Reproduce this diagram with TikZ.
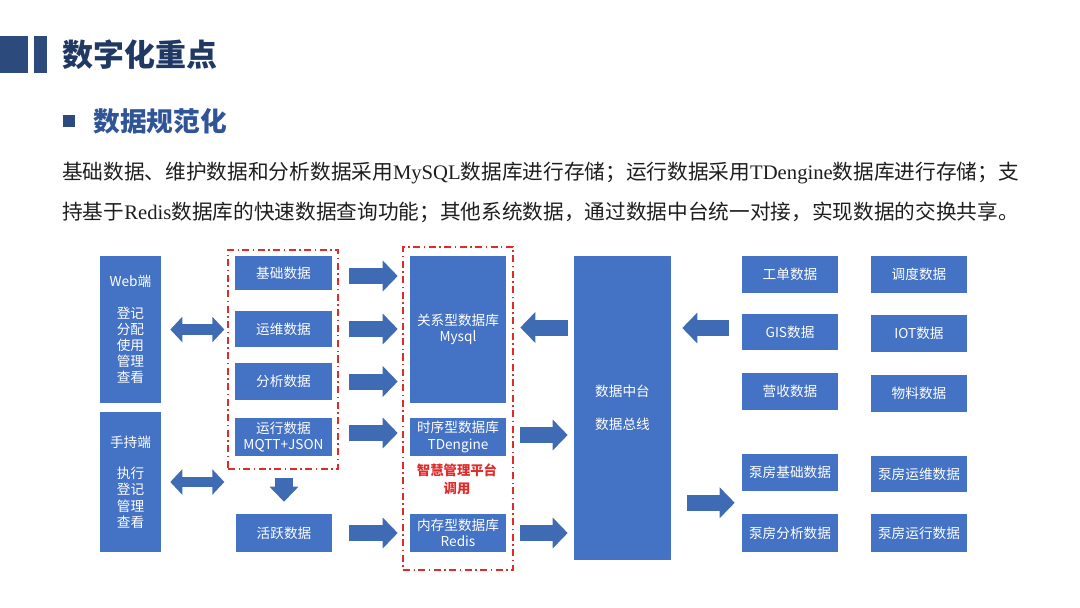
\documentclass[tikz,border=0pt]{standalone}
\usepackage{fontspec}
\setmainfont{Noto Sans CJK SC}
\newfontfamily\latinserif{Liberation Serif}
\usetikzlibrary{arrows.meta, positioning, calc}
\definecolor{boxBlue}{HTML}{4472C4}
\definecolor{arrBlue}{HTML}{3F6BB5}
\definecolor{titleNavy}{HTML}{1F3864}
\definecolor{barNavy}{HTML}{2C4A7C}
\definecolor{subBlue}{HTML}{2F5597}
\definecolor{dashRed}{HTML}{E02B2B}
\definecolor{bodyText}{HTML}{1E1E1E}
\tikzset{
  box/.style={rectangle, fill=boxBlue, text=white, align=center,
              font=\fontsize{9.7}{11.5}\selectfont, inner sep=1pt,
              minimum width=2.4cm},
  grp/.style={rectangle, draw=dashRed, line width=0.9pt,
              dash pattern=on 5pt off 2.5pt on 1pt off 2.5pt},
  arrowB/.style={-{Triangle[length=0.375cm, width=0.75cm]},
                 line width=0.4cm, arrBlue},
  arrowDn/.style={-{Triangle[length=0.375cm, width=0.7cm]},
                  line width=0.45cm, arrBlue},
  arrowLR/.style={{Triangle[length=0.3cm, width=0.62cm]}-{Triangle[length=0.3cm, width=0.62cm]},
                  line width=0.27cm, arrBlue},
}
\begin{document}
\begin{tikzpicture}[x=0.025cm, y=-0.025cm]
  \useasboundingbox (0,0) rectangle (1080,607);

  % Titel und Text
  \fill[barNavy] (0,36) rectangle (28,73);
  \fill[barNavy] (34,36) rectangle (47,73);
  \node[anchor=west, inner sep=0, text=titleNavy,
        font=\fontsize{22}{26}\selectfont\bfseries] (title) at (62,55) {数字化重点};
  \fill[barNavy] (63,115) rectangle (75,127);
  \node[anchor=west, inner sep=0, text=subBlue,
        font=\fontsize{19}{23}\selectfont\bfseries] (sub) at (93,121) {数据规范化};
  \node[anchor=west, inner sep=0, align=left, text=bodyText,
        font=\fontsize{14.7}{29}\selectfont] (para) at (62,192.5)
    {基础数据、维护数据和分析数据采用{\latinserif MySQL}数据库进行存储；运行数据采用{\latinserif TDengine}数据库进行存储；支\\
     持基于{\latinserif Redis}数据库的快速数据查询功能；其他系统数据，通过数据中台统一对接，实现数据的交换共享。};

  % Endgeraete
  \node[box, minimum width=1.525cm, minimum height=3.675cm] (web) at (130.5,329.5)
    {Web端\\[11pt]登记\\分配\\使用\\管理\\查看};
  \node[box, minimum width=1.525cm, minimum height=3.5cm] (hand) at (130.5,482)
    {手持端\\[11pt]执行\\登记\\管理\\查看};

  % Datenarten
  \node[grp, minimum width=2.75cm, minimum height=5.475cm] (grpA) at (283,359.5) {};
  \node[box, minimum width=2.425cm, minimum height=0.85cm] (jc) at (283.5,273) {基础数据};
  \node[box, minimum width=2.425cm, minimum height=0.9cm] (yw) at (283.5,329) {运维数据};
  \node[box, minimum width=2.425cm, minimum height=0.925cm] (fx) at (283.5,381.5) {分析数据};
  \node[box, minimum width=2.425cm, minimum height=0.95cm] (yx) at (283.5,437) {运行数据\\MQTT+JSON};
  \node[box, minimum height=0.95cm] (hy) at (284,533) {活跃数据};

  % Datenbanken
  \node[grp, minimum width=2.75cm, minimum height=8.075cm] (grpB) at (458,408.5) {};
  \node[box, minimum height=3.675cm] (mysql) at (458,329.5) {关系型数据库\\Mysql};
  \node[box, minimum height=0.95cm] (tden) at (458,437) {时序型数据库\\TDengine};
  \node[box, minimum height=0.95cm] (redis) at (458,533) {内存型数据库\\Redis};
  \node[text=dashRed, align=center, font=\fontsize{9.5}{13}\selectfont\bfseries] (plat)
    at (457,479) {智慧管理平台\\调用};

  % Datenmittelplattform
  \node[box, minimum width=2.425cm, minimum height=7.6cm] (hub) at (622.5,408)
    {数据中台\\[12pt]数据总线};

  % andere Systeme
  \node[box, minimum height=0.925cm] (gd) at (790,274.5) {工单数据};
  \node[box, minimum height=0.925cm] (dd) at (919,274.5) {调度数据};
  \node[box, minimum height=0.9cm] (gis) at (790,332) {GIS数据};
  \node[box, minimum height=0.925cm] (iot) at (919,333.5) {IOT数据};
  \node[box, minimum height=0.925cm] (ys) at (790,391.5) {营收数据};
  \node[box, minimum height=0.925cm] (wl) at (919,393.5) {物料数据};
  \node[box, minimum height=0.925cm] (bjc) at (790,472.5) {泵房基础数据};
  \node[box, minimum height=0.9cm] (byw) at (919,474) {泵房运维数据};
  \node[box, minimum height=0.95cm] (bfx) at (790,533) {泵房分析数据};
  \node[box, minimum height=0.95cm] (byx) at (919,533) {泵房运行数据};
  \coordinate (pmid) at ($(bjc.west)!0.5!(bfx.west)$);

  % Pfeile
  \draw[arrowLR] ($(web.east)+(9,0)$) -- ($(web.east -| grpA.west)+(-3,0)$);
  \draw[arrowLR] ($(hand.east)+(9,0)$) -- ($(hand.east -| grpA.west)+(-3,0)$);
  \draw[arrowB] ($(jc.east)+(17,3)$) -- ($(jc.east -| mysql.west)+(-12,3)$);
  \draw[arrowB] ($(yw.east)+(17,0)$) -- ($(yw.east -| mysql.west)+(-12,0)$);
  \draw[arrowB] ($(fx.east)+(17,0)$) -- ($(fx.east -| mysql.west)+(-12,0)$);
  \draw[arrowB] ($(yx.east)+(17,-4)$) -- ($(yx.east -| tden.west)+(-12,-4)$);
  \draw[arrowB] ($(hy.east)+(17,0)$) -- ($(hy.east -| redis.west)+(-12,0)$);
  \draw[arrowDn] ($(grpA.south)+(1,8)$) -- ($(grpA.south |- hy.north)+(1,-12)$);
  \draw[arrowB] ($(mysql.east -| hub.west)+(-6,-2)$) -- ($(mysql.east)+(14,-2)$);
  \draw[arrowB] ($(tden.east)+(14,-2)$) -- ($(tden.east -| hub.west)+(-6,-2)$);
  \draw[arrowB] ($(redis.east)+(14,0)$) -- ($(redis.east -| hub.west)+(-6,0)$);
  \draw[arrowB] ($(gis.west)+(-13,-4)$) -- ($(gis.west -| hub.east)+(11,-4)$);
  \draw[arrowB] ($(pmid -| hub.east)+(16,0)$) -- ($(pmid)+(-7,0)$);
\end{tikzpicture}
\end{document}
